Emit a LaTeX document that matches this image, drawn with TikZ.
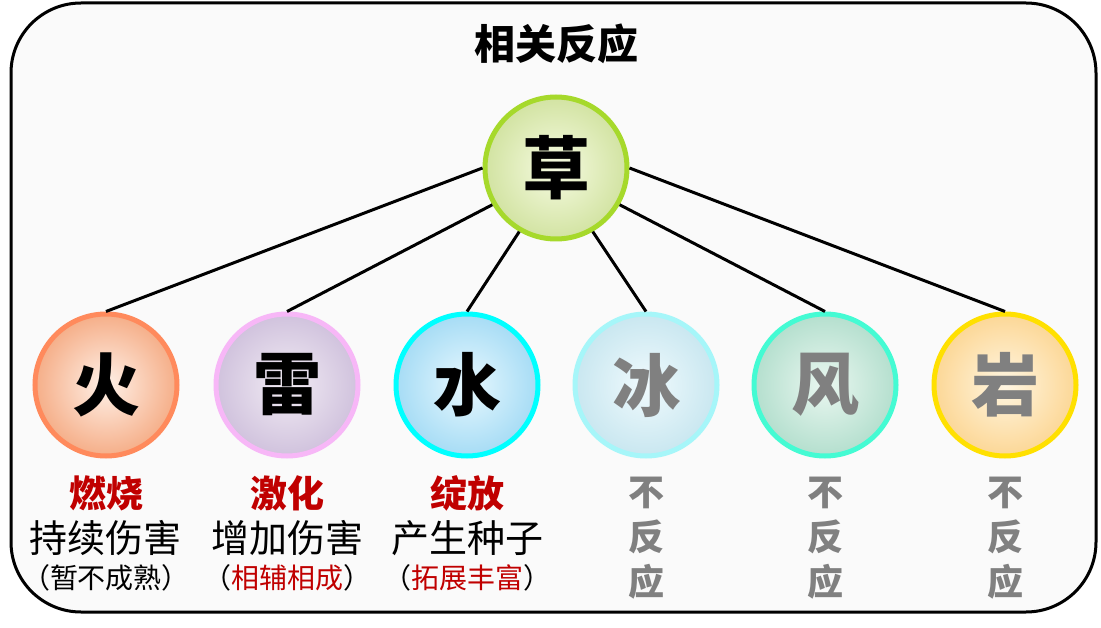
\documentclass[tikz,border=0pt]{standalone}
\usepackage{fontspec}
\setmainfont{Noto Sans CJK SC}
\definecolor{frameFill}{HTML}{FAFAFA}
\definecolor{rred}{HTML}{C00000}
\definecolor{gtext}{HTML}{808080}
\definecolor{caoB}{HTML}{A6D92B}\definecolor{caoI}{HTML}{F6FBE2}\definecolor{caoO}{HTML}{D2E3A2}
\definecolor{huoB}{HTML}{FF8A5C}\definecolor{huoI}{HTML}{FFF1E8}\definecolor{huoO}{HTML}{F5AE88}
\definecolor{leiB}{HTML}{F7B7F7}\definecolor{leiI}{HTML}{F2ECF4}\definecolor{leiO}{HTML}{D0C2DD}
\definecolor{shuiB}{HTML}{00FFFF}\definecolor{shuiI}{HTML}{E8F8FE}\definecolor{shuiO}{HTML}{A6DCF5}
\definecolor{bingB}{HTML}{A6F6F9}\definecolor{bingI}{HTML}{F0FAFD}\definecolor{bingO}{HTML}{C9E7F0}
\definecolor{fengB}{HTML}{44FBD3}\definecolor{fengI}{HTML}{EAF7F0}\definecolor{fengO}{HTML}{B4DFCE}
\definecolor{yanB}{HTML}{FFE000}\definecolor{yanI}{HTML}{FFF6E2}\definecolor{yanO}{HTML}{FCD796}
\tikzset{
  frame/.style={line width=3pt, draw=black, fill=frameFill, rounded corners=70pt},
  elem/.style={circle, minimum size=142pt, inner sep=0pt, line width=5pt,
    font=\fontsize{68}{72}\selectfont\bfseries},
  link/.style={line width=3pt, draw=black},
  ttl/.style={font=\fontsize{41}{44}\selectfont\bfseries},
  rname/.style={font=\fontsize{37}{40}\selectfont\bfseries, text=rred},
  rdesc/.style={font=\fontsize{38}{42}\selectfont},
  rnote/.style={font=\fontsize{28}{32}\selectfont},
  noreact/.style={font=\fontsize{36}{45}\selectfont\bfseries, text=gtext, align=center}
}
\begin{document}
\begin{tikzpicture}[x=1pt,y=-1pt]
\useasboundingbox (0,0) rectangle (1101,628);
\path[frame] (11,3) rectangle (1096,612);
\node[ttl] (title) at (556,44) {相关反应};
\node[elem, draw=caoB, inner color=caoI, outer color=caoO] (cao) at (556,168) {草};
\node[elem, draw=huoB, inner color=huoI, outer color=huoO] (huo) at (106,385) {火};
\node[elem, draw=leiB, inner color=leiI, outer color=leiO] (lei) at (287,385) {雷};
\node[elem, draw=shuiB, inner color=shuiI, outer color=shuiO] (shui) at (467,385) {水};
\node[elem, draw=bingB, inner color=bingI, outer color=bingO, text=gtext] (bing) at (646,385) {冰};
\node[elem, draw=fengB, inner color=fengI, outer color=fengO, text=gtext] (feng) at (825,385) {风};
\node[elem, draw=yanB, inner color=yanI, outer color=yanO, text=gtext] (yan) at (1005,385) {岩};
\draw[link] (cao.west) -- (huo.north);
\draw[link] (cao.210) -- (lei.north);
\draw[link] (cao.240) -- (shui.north);
\draw[link] (cao.300) -- (bing.north);
\draw[link] (cao.330) -- (feng.north);
\draw[link] (cao.east) -- (yan.north);
\node[rname] (n1) at (106,493) {燃烧};
\node[rdesc] (d1) at (106,538) {持续伤害};
\node[rnote] (m1) at (106,578) {（暂不成熟）};
\node[rname] (n2) at (287,493) {激化};
\node[rdesc] (d2) at (287,538) {增加伤害};
\node[rnote] (m2) at (287,578) {（\textcolor{rred}{相辅相成}）};
\node[rname] (n3) at (467,493) {绽放};
\node[rdesc] (d3) at (467,538) {产生种子};
\node[rnote] (m3) at (467,578) {（\textcolor{rred}{拓展丰富}）};
\node[noreact] (x1) at (646,538) {不\\反\\应};
\node[noreact] (x2) at (825,538) {不\\反\\应};
\node[noreact] (x3) at (1005,538) {不\\反\\应};
\end{tikzpicture}
\end{document}
